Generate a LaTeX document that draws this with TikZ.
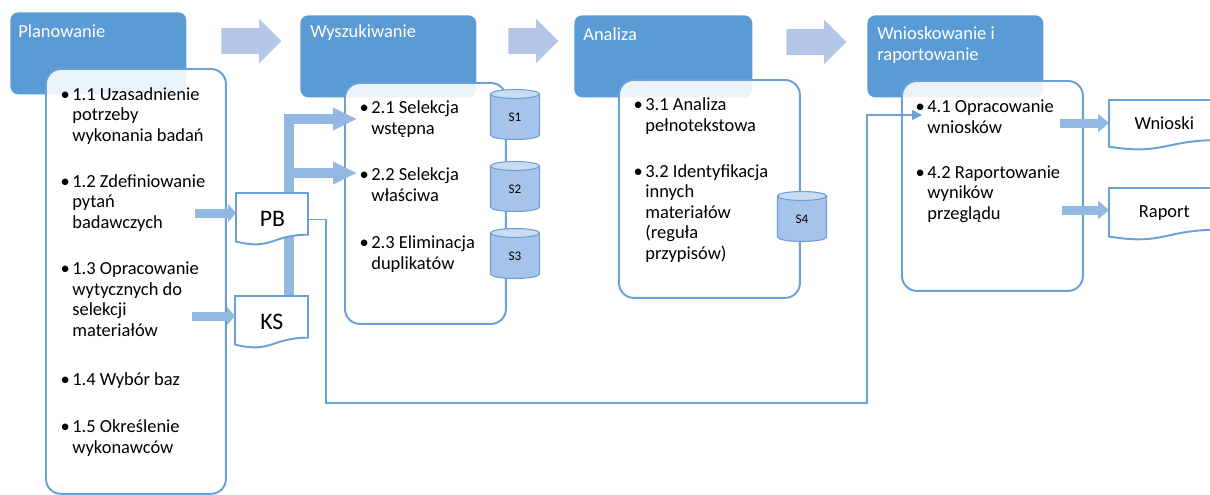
\documentclass[tikz,border=0pt]{standalone}
\usepackage{fontspec}
\setmainfont{Carlito}
\usepackage{tikz}
\usetikzlibrary{shapes.geometric,shapes.arrows,arrows.meta}

\definecolor{headblue}{HTML}{5B9BD5}
\definecolor{edgeblue}{HTML}{6A9FD8}
\definecolor{paleblue}{HTML}{B4C7E7}
\definecolor{fatblue}{HTML}{93B7E3}
\definecolor{cylbody}{HTML}{A6C4EA}
\definecolor{cyltop}{HTML}{CADCF2}

% document outline: x, y, width, height (px)
\newcommand{\docshape}[4]{%
  \draw[docline] (#1,#2) -- ({#1+#3},#2) -- ({#1+#3},{#2+0.802*#4})
    .. controls ({#1+0.5*#3},{#2+0.802*#4}) and ({#1+0.5*#3},{#2+1.107*#4})
    .. (#1,{#2+0.934*#4}) -- cycle;}
\newcommand{\bul}{\llap{•\hspace{0.05cm}}}

\begin{document}
\begin{tikzpicture}[x=0.02cm,y=-0.02cm,
    head/.style={fill=headblue, rounded corners=0.16cm, anchor=north west,
      minimum width=3.52cm, minimum height=1.64cm, inner sep=0},
    title/.style={anchor=base west, text=white, align=left, inner sep=0,
      font=\fontsize{10.5}{11.7}\selectfont},
    panel/.style={draw=edgeblue, line width=1.1pt, fill=white, fill opacity=0.88,
      rounded corners=0.3cm, anchor=north west, inner sep=0},
    item/.style={anchor=base west, align=left, inner sep=0,
      font=\fontsize{10.5}{11.6}\selectfont},
    blockarrow/.style={single arrow, fill=paleblue, inner xsep=0, inner ysep=0.25cm,
      single arrow head extend=0.19cm},
    fat/.style={draw=fatblue, line width=0.2cm, line join=miter},
    thinlink/.style={draw=edgeblue, line width=0.9pt},
    docline/.style={draw=edgeblue, line width=1.1pt, fill=white},
    doc/.style={anchor=north west, inner sep=0},
    db/.style={cylinder, shape border rotate=90, aspect=0.7, draw=edgeblue,
      line width=0.6pt, cylinder uses custom fill, cylinder body fill=cylbody,
      cylinder end fill=cyltop, minimum width=0.98cm, minimum height=1cm,
      inner sep=0, font=\fontsize{7.5}{9}\selectfont}]
\useasboundingbox (0,0) rectangle (1210,494);

% phase headers
\node[head] (h1) at (10,12) {};
\node[head] (h2) at (300,15) {};
\node[head, minimum width=3.56cm] (h3) at (574,15) {};
\node[head] (h4) at (867,15) {};
\node[title] (t1) at (18,37) {Planowanie};
\node[title] (t2) at (310,37) {Wyszukiwanie};
\node[title] (t3) at (583,40) {Analiza};
\node[title] (t4) at (877,60) {Wnioskowanie i\\raportowanie};

\node[blockarrow, minimum height=1.2cm] (a1) at (245,41) {};
\node[blockarrow, minimum height=1cm] (a2) at (527,41) {};
\node[blockarrow, minimum height=1.2cm] (a3) at (810,42) {};

% panels
\node[panel, minimum width=3.6cm, minimum height=8.5cm] (p1) at (45,68) {};
\node[panel, minimum width=3.22cm, minimum height=4.82cm] (p2) at (344,82) {};
\node[panel, minimum width=3.62cm, minimum height=4.36cm] (p3) at (618,79) {};
\node[panel, minimum width=3.62cm, minimum height=4.2cm] (p4) at (901,80) {};

% items, placed at the baseline of their last line
\node[item] (i11) at (72,141) {\bul 1.1 Uzasadnienie\\potrzeby\\wykonania badań};
\node[item] (i12) at (72,228) {\bul 1.2 Zdefiniowanie\\pytań\\badawczych};
\node[item] (i13) at (72,336) {\bul 1.3 Opracowanie\\wytycznych do\\selekcji\\materiałów};
\node[item] (i14) at (72,385) {\bul 1.4 Wybór baz};
\node[item] (i15) at (72,453) {\bul 1.5 Określenie\\wykonawców};

\node[item] (i21) at (371,134) {\bul 2.1 Selekcja\\wstępna};
\node[item] (i22) at (371,201) {\bul 2.2 Selekcja\\właściwa};
\node[item] (i23) at (371,269) {\bul 2.3 Eliminacja\\duplikatów};

\node[item] (i31) at (645,131) {\bul 3.1 Analiza\\pełnotekstowa};
\node[item] (i32) at (645,259) {\bul 3.2 Identyfikacja\\innych\\materiałów\\(reguła\\przypisów)};

\node[item] (i41) at (927,133) {\bul 4.1 Opracowanie\\wniosków};
\node[item] (i42) at (927,219) {\bul 4.2 Raportowanie\\wyników\\przeglądu};

% link PB -> 4.1
\coordinate (c1) at (326,403);
\coordinate (c2) at (867,403);
\coordinate (t41) at (922,115);
\coordinate (t21) at (357,119);
\coordinate (t22) at (357,173);
\coordinate (bar) at (289,296);

% fat arrows
\draw[fat, -{Triangle[length=0.48cm,width=0.42cm]}] (bar) |- (t21);
\draw[fat, -{Triangle[length=0.48cm,width=0.42cm]}] (bar |- t22) -- (t22);

% documents
\docshape{236}{193}{72}{52}
\node[doc, minimum width=1.44cm, minimum height=1.04cm,
  font=\fontsize{13.5}{15}\selectfont] (pb) at (236,193) {PB};
\docshape{235}{296}{73}{52}
\node[doc, minimum width=1.46cm, minimum height=1.04cm,
  font=\fontsize{13.5}{15}\selectfont] (ks) at (235,296) {KS};
\docshape{1109}{100}{110}{50}
\node[doc, minimum width=2.2cm, minimum height=1cm,
  font=\fontsize{10.5}{12}\selectfont] (wn) at (1109,100) {\raisebox{0.11cm}{Wnioski}};
\docshape{1109}{188}{110}{52}
\node[doc, minimum width=2.2cm, minimum height=1.04cm,
  font=\fontsize{10.5}{12}\selectfont] (rp) at (1109,188) {\raisebox{0.11cm}{Raport}};

\draw[thinlink, -{Triangle[length=0.2cm,width=0.2cm]}] (pb.east) -| (c1) -- (c2) |- (t41);

\coordinate (f1) at (195,213);
\coordinate (f2) at (192,316);
\coordinate (f41) at (1060,123);
\coordinate (f42) at (1062,210);
\draw[fat, line width=0.18cm, -{Triangle[length=0.16cm,width=0.36cm]}] (f1) -- (f1 -| pb.west);
\draw[fat, line width=0.18cm, -{Triangle[length=0.16cm,width=0.36cm]}] (f2) -- (f2 -| ks.west);
\draw[fat, line width=0.18cm, -{Triangle[length=0.22cm,width=0.36cm]}] (f41) -- (f41 -| wn.west);
\draw[fat, line width=0.18cm, -{Triangle[length=0.22cm,width=0.36cm]}] (f42) -- (f42 -| rp.west);

% databases
\node[db] (s1) at (515,117) {S1};
\node[db] (s2) at (515,189) {S2};
\node[db] (s3) at (515,256) {S3};
\node[db] (s4) at (802,219) {S4};
\end{tikzpicture}
\end{document}
